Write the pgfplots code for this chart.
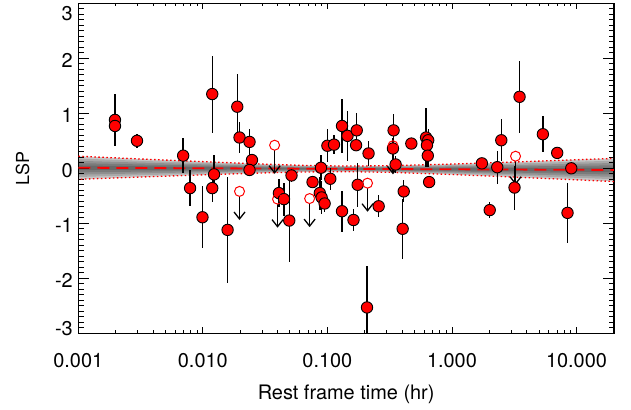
\documentclass[border=0pt]{standalone}
\usepackage{fontspec}
\setmainfont{TeX Gyre Heros}
\usepackage{pgfplots}
\pgfplotsset{compat=1.18}
\usepackage{pgfplotstable}
\usetikzlibrary{arrows.meta}

\pgfplotstableread{
x y e
0.00197 0.88 0.47
0.00197 0.77 0.30
0.00296 0.50 0.13
0.00695 0.23 0.32
0.0079 -0.36 0.33
0.00993 -0.89 0.56
0.0119 1.35 0.70
0.0119 -0.36 0.25
0.0123 -0.11 0.35
0.0158 -1.12 0.96
0.0189 1.12 0.60
0.0197 0.56 0.28
0.0237 0.48 0.24
0.0248 0.15 0.10
0.0237 -0.03 0.05
0.0408 -0.45 0.25
0.0448 -0.56 0.30
0.0494 -0.95 0.75
0.0515 -0.13 0.12
0.0760 -0.25 0.08
0.0888 0.01 0.23
0.0869 -0.45 0.30
0.0899 -0.53 0.30
0.095 -0.64 0.15
0.1055 -0.19 0.20
0.131 -0.78 0.37
0.100 0.41 0.30
0.113 0.43 0.17
0.131 0.77 0.49
0.145 0.59 0.45
0.172 0.69 0.31
0.170 0.42 0.10
0.214 0.27 0.23
0.175 -0.30 0.40
0.162 -0.94 0.20
0.258 -0.69 0.20
0.208 -2.53 0.75
0.34 0.69 0.30
0.336 0.36 0.20
0.353 0.07 0.15
0.41 -0.42 0.20
0.402 -1.10 0.55
0.472 0.45 0.05
0.62 0.56 0.53
0.645 0.51 0.20
0.63 0.42 0.20
0.64 0.23 0.20
0.656 -0.25 0.05
1.74 0.09 0.08
2.31 0.02 0.30
2.49 0.51 0.38
2.01 -0.76 0.15
3.49 1.30 0.65
3.18 -0.35 0.40
5.37 0.62 0.33
7.0 0.28 0.0
9.08 0.0 0.0
8.47 -0.81 0.55
}\ptsdata

\pgfplotstableread{
x y
0.0197 -0.42
0.0377 0.42
0.0398 -0.56
0.072 -0.55
0.21 -0.27
0.336 0.41
3.24 0.22
}\limdata

\pgfplotstableread{
x c hw s
0.001 0.010 0.210 1
0.00316 0.005 0.164 1
0.01 0.001 0.120 1
0.0316 -0.004 0.079 1
0.0631 -0.007 0.060 1
0.141 -0.010 0.050 1
0.316 -0.013 0.060 1
1 -0.018 0.095 1
3.16 -0.023 0.137 1
10 -0.027 0.183 1
20 -0.030 0.210 1
20 -0.030 0.210 -1
10 -0.027 0.183 -1
3.16 -0.023 0.137 -1
1 -0.018 0.095 -1
0.316 -0.013 0.060 -1
0.141 -0.010 0.050 -1
0.0631 -0.007 0.060 -1
0.0316 -0.004 0.079 -1
0.01 0.001 0.120 -1
0.00316 0.005 0.164 -1
0.001 0.010 0.210 -1
}\banddata

\begin{document}
\begin{tikzpicture}
\begin{axis}[
  at={(0,0)}, anchor=south west,
  scale only axis, width=535.7bp, height=330bp,
  xmode=log, xmin=0.001, xmax=20, ymin=-3, ymax=3,
  axis line style={line width=1.1bp},
  tick style={black, line width=0.9bp},
  major tick length=11bp, minor tick length=5.5bp,
  xtick style={/pgfplots/major tick length=6bp, /pgfplots/minor tick length=3bp},
  tick align=inside, tick pos=both,
  xtick={0.001,0.01,0.1,1,10},
  xticklabels={0.001,0.010,0.100,1.000,10.000},
  minor xtick={0.002,0.003,0.004,0.005,0.006,0.007,0.008,0.009,0.02,0.03,0.04,0.05,0.06,0.07,0.08,0.09,0.2,0.3,0.4,0.5,0.6,0.7,0.8,0.9,2,3,4,5,6,7,8,9},
  ytick={-3,-2,-1,0,1,2,3},
  yticklabels={\smash{\raisebox{-0.4bp}{-3}},-2,-1,0,1,2,\smash{\raisebox{-14.7bp}{3}}},
  minor y tick num=9,
  xticklabel style={font=\fontsize{20}{24}\selectfont, yshift=-17bp},
  yticklabel style={font=\fontsize{20}{24}\selectfont, yshift=-2bp, xshift=-2bp},
  xlabel={Rest frame time (hr)}, ylabel={LSP},
  xlabel style={font=\fontsize{20}{24}\selectfont, at={(axis description cs:0.5,-0.202)}, anchor=base},
  ylabel style={font=\fontsize{18}{22}\selectfont, at={(axis description cs:-0.104,0.5)}, anchor=center},
]
% gray band (layered for gradient)
\addplot[draw=none, fill=black, fill opacity=0.22] table[x=x, y expr=\thisrow{c}+\thisrow{s}*\thisrow{hw}] {\banddata};
\addplot[draw=none, fill=black, fill opacity=0.15] table[x=x, y expr=\thisrow{c}+0.8*\thisrow{s}*\thisrow{hw}] {\banddata};
\addplot[draw=none, fill=black, fill opacity=0.15] table[x=x, y expr=\thisrow{c}+0.6*\thisrow{s}*\thisrow{hw}] {\banddata};
\addplot[draw=none, fill=black, fill opacity=0.15] table[x=x, y expr=\thisrow{c}+0.4*\thisrow{s}*\thisrow{hw}] {\banddata};
\addplot[draw=none, fill=black, fill opacity=0.15] table[x=x, y expr=\thisrow{c}+0.2*\thisrow{s}*\thisrow{hw}] {\banddata};
% dotted edges
\addplot[red, line width=1.3bp, dash pattern=on 1.5bp off 2.5bp, skip coords between index={11}{22}] table[x=x, y expr=\thisrow{c}+\thisrow{s}*\thisrow{hw}] {\banddata};
\addplot[red, line width=1.3bp, dash pattern=on 1.5bp off 2.5bp, skip coords between index={0}{11}] table[x=x, y expr=\thisrow{c}+\thisrow{s}*\thisrow{hw}] {\banddata};
% dashed centre
\addplot[red, line width=1.8bp, dash pattern=on 12bp off 7bp, skip coords between index={11}{22}] table[x=x, y=c] {\banddata};
% error bars
\addplot[only marks, mark=none, error bars/.cd, y dir=both, y explicit, error mark=none, error bar style={black, solid, line width=1.4bp}] table[x=x, y=y, y error=e] {\ptsdata};
% filled points
\addplot[only marks, mark=*, mark size=5.7bp, mark options={fill=red, draw=black, line width=0.9bp}] table[x=x, y=y] {\ptsdata};
% upper limits
\addplot[only marks, mark=o, mark size=5bp, mark options={draw=red, line width=1bp}] table[x=x, y=y] {\limdata};
\pgfplotsset{limarrow/.style={black, line width=1.3bp, -{Straight Barb[length=7bp,width=11bp]}}}
\addplot[limarrow] coordinates {(0.0197,-0.51) (0.0197,-0.94)};
\addplot[limarrow] coordinates {(0.0377,0.33) (0.0377,-0.10)};
\addplot[limarrow] coordinates {(0.0398,-0.65) (0.0398,-1.08)};
\addplot[limarrow] coordinates {(0.072,-0.64) (0.072,-1.07)};
\addplot[limarrow] coordinates {(0.21,-0.36) (0.21,-0.79)};
\addplot[limarrow] coordinates {(0.336,0.32) (0.336,-0.11)};
\addplot[limarrow] coordinates {(3.24,0.13) (3.24,-0.30)};
\end{axis}
\pgfresetboundingbox
\useasboundingbox (-78.3bp,-76.7bp) rectangle (552.7bp,333.3bp);
\end{tikzpicture}
\end{document}
